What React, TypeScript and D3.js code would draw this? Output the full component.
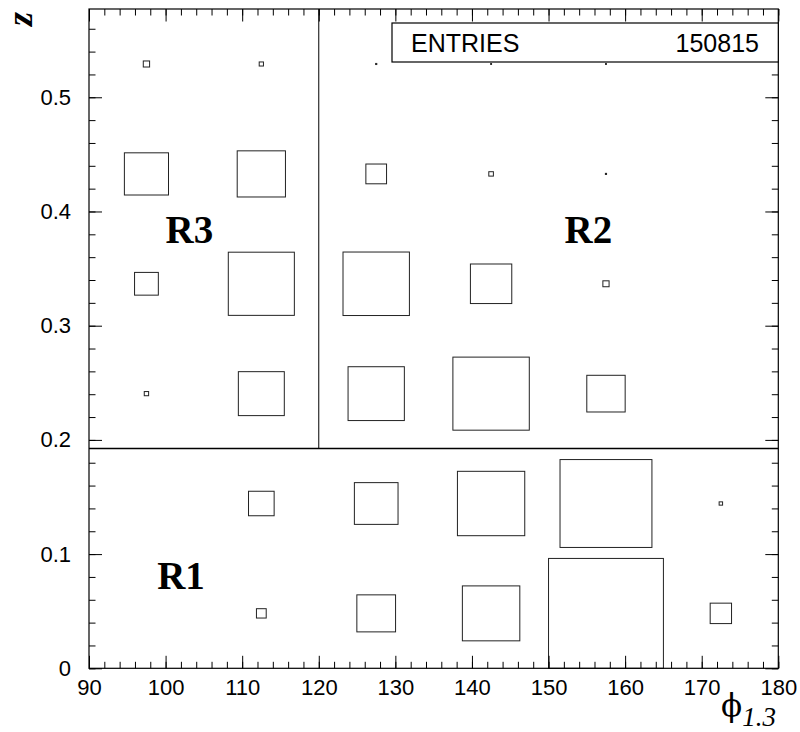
import { useEffect, useRef } from "react";
import * as d3 from "d3";

// bin edges of the 2D histogram
const phiEdges = [90, 105, 120, 135, 150, 165, 180];
const zEdges = [0, 0.0962, 0.1924, 0.2886, 0.3848, 0.481, 0.5773];

// relative cell contents (box side / bin width), rows = z bins from bottom
const cellContent = [
  [0, 0.085, 0.337, 0.5, 1.0, 0.186],
  [0, 0.223, 0.38, 0.586, 0.8, 0.03],
  [0.038, 0.4, 0.49, 0.665, 0.334, 0],
  [0.207, 0.575, 0.578, 0.36, 0.054, 0],
  [0.384, 0.42, 0.18, 0.04, 0.01, 0],
  [0.055, 0.037, 0.01, 0.008, 0.008, 0],
];

const xMajorTicks = [90, 100, 110, 120, 130, 140, 150, 160, 170, 180];
const yMajorTicks = [0, 0.1, 0.2, 0.3, 0.4, 0.5];

// region boundaries
const zCut = 0.1924;
const phiCut = 120;
const regionLabels = [
  { text: "R1", phi: 98.9, z: 0.069 },
  { text: "R2", phi: 152.1, z: 0.372 },
  { text: "R3", phi: 100.0, z: 0.372 },
];

const entries = "150815";

export default function App() {
  const svgRef = useRef<SVGSVGElement>(null);

  useEffect(() => {
    document.body.style.margin = "0";
    if (!svgRef.current) return;
    const width = 800;
    const height = 732;
    const left = 89;
    const right = 778.3;
    const top = 9;
    const bottom = 668.3;

    const svg = d3.select(svgRef.current);
    svg.selectAll("*").remove();
    svg.attr("width", width).attr("height", height);

    const x = d3.scaleLinear().domain([90, 180]).range([left, right]);
    const y = d3.scaleLinear().domain([0, zEdges[zEdges.length - 1]]).range([bottom, top]);

    const sans = "'Liberation Sans', Arial, Helvetica, sans-serif";
    const serif = "'Liberation Serif', 'Times New Roman', serif";

    // ── boxes ──────────────────────────────────────────────────────────────
    const cells: { x0: number; x1: number; y0: number; y1: number; f: number }[] = [];
    cellContent.forEach((row, j) =>
      row.forEach((f, i) => {
        if (f > 0) cells.push({ x0: phiEdges[i], x1: phiEdges[i + 1], y0: zEdges[j], y1: zEdges[j + 1], f });
      })
    );

    svg
      .append("g")
      .selectAll("rect")
      .data(cells)
      .enter()
      .append("rect")
      .attr("x", (d) => {
        const cx = (x(d.x0) + x(d.x1)) / 2;
        return cx - ((x(d.x1) - x(d.x0)) * d.f) / 2;
      })
      .attr("y", (d) => {
        const cy = (y(d.y0) + y(d.y1)) / 2;
        return cy - ((y(d.y0) - y(d.y1)) * d.f) / 2;
      })
      .attr("width", (d) => Math.max(0.8, (x(d.x1) - x(d.x0)) * d.f))
      .attr("height", (d) => Math.max(0.8, (y(d.y0) - y(d.y1)) * d.f))
      .attr("fill", "none")
      .attr("stroke", "#222")
      .attr("stroke-width", 1);

    // ── region lines ───────────────────────────────────────────────────────
    svg
      .append("line")
      .attr("x1", x(90))
      .attr("x2", x(180))
      .attr("y1", y(zCut))
      .attr("y2", y(zCut))
      .attr("stroke", "#000")
      .attr("stroke-width", 1.4);
    svg
      .append("line")
      .attr("x1", x(phiCut))
      .attr("x2", x(phiCut))
      .attr("y1", y(zCut))
      .attr("y2", top)
      .attr("stroke", "#000")
      .attr("stroke-width", 1);

    // ── axes (ROOT style, ticks inside, mirrored) ──────────────────────────
    const xMinor = d3.range(90, 181, 2);
    const yMinor = d3.range(0, 0.57, 0.02);

    const styleAxis = (sel: d3.Selection<SVGGElement, unknown, null, undefined>) => {
      sel.select(".domain").remove();
      sel.selectAll(".tick line").attr("stroke", "#000").attr("stroke-width", 1);
    };

    const bottomAxis = svg
      .append("g")
      .attr("transform", `translate(0,${bottom})`)
      .call(d3.axisBottom(x).tickValues(xMajorTicks).tickSize(-12.5).tickPadding(0).tickFormat(d3.format("d")));
    styleAxis(bottomAxis);
    bottomAxis
      .selectAll(".tick text")
      .attr("y", 26.5)
      .attr("dy", 0)
      .attr("font-family", sans)
      .attr("font-size", 22)
      .attr("fill", "#000");
    styleAxis(
      svg.append("g").attr("transform", `translate(0,${bottom})`).call(d3.axisBottom(x).tickValues(xMinor).tickSize(-6.5).tickFormat(() => ""))
    );
    styleAxis(
      svg.append("g").attr("transform", `translate(0,${top})`).call(d3.axisTop(x).tickValues(xMajorTicks).tickSize(-12.5).tickFormat(() => ""))
    );
    styleAxis(
      svg.append("g").attr("transform", `translate(0,${top})`).call(d3.axisTop(x).tickValues(xMinor).tickSize(-6.5).tickFormat(() => ""))
    );

    const leftAxis = svg
      .append("g")
      .attr("transform", `translate(${left},0)`)
      .call(d3.axisLeft(y).tickValues(yMajorTicks).tickSize(-13).tickPadding(18).tickFormat((d) => (d === 0 ? "0" : d3.format(".1f")(d as number))));
    styleAxis(leftAxis);
    leftAxis
      .selectAll(".tick text")
      .attr("x", -18)
      .attr("font-family", sans)
      .attr("font-size", 22)
      .attr("fill", "#000");
    styleAxis(
      svg.append("g").attr("transform", `translate(${left},0)`).call(d3.axisLeft(y).tickValues(yMinor).tickSize(-6.5).tickFormat(() => ""))
    );
    styleAxis(
      svg.append("g").attr("transform", `translate(${right},0)`).call(d3.axisRight(y).tickValues(yMajorTicks).tickSize(-13).tickFormat(() => ""))
    );
    styleAxis(
      svg.append("g").attr("transform", `translate(${right},0)`).call(d3.axisRight(y).tickValues(yMinor).tickSize(-6.5).tickFormat(() => ""))
    );

    // frame
    svg
      .append("rect")
      .attr("x", left)
      .attr("y", top)
      .attr("width", right - left)
      .attr("height", bottom - top)
      .attr("fill", "none")
      .attr("stroke", "#000")
      .attr("stroke-width", 1.2);

    // ── region labels ──────────────────────────────────────────────────────
    svg
      .append("g")
      .selectAll("text")
      .data(regionLabels)
      .enter()
      .append("text")
      .attr("x", (d) => x(d.phi))
      .attr("y", (d) => y(d.z))
      .attr("font-family", serif)
      .attr("font-weight", "bold")
      .attr("font-size", 39)
      .attr("fill", "#000")
      .text((d) => d.text);

    // ── stats box ──────────────────────────────────────────────────────────
    const stats = svg.append("g");
    stats
      .append("rect")
      .attr("x", 392)
      .attr("y", 23)
      .attr("width", right - 392)
      .attr("height", 39)
      .attr("fill", "#fff")
      .attr("stroke", "#000")
      .attr("stroke-width", 1.2);
    stats
      .append("text")
      .attr("x", 411)
      .attr("y", 52)
      .attr("font-family", sans)
      .attr("font-size", 25)
      .attr("fill", "#000")
      .text("ENTRIES");
    stats
      .append("text")
      .attr("x", 759)
      .attr("y", 52)
      .attr("text-anchor", "end")
      .attr("font-family", sans)
      .attr("font-size", 25)
      .attr("fill", "#000")
      .text(entries);

    // ── axis titles ────────────────────────────────────────────────────────
    svg
      .append("text")
      .attr("transform", `translate(32,12) rotate(-90)`)
      .attr("text-anchor", "end")
      .attr("font-family", serif)
      .attr("font-weight", "bold")
      .attr("font-style", "italic")
      .attr("font-size", 36)
      .attr("fill", "#000")
      .text("z");

    const xTitle = svg.append("text").attr("x", 721).attr("y", 716).attr("fill", "#000");
    xTitle.append("tspan").attr("font-family", "'DejaVu Serif', serif").attr("font-size", 31).text("ϕ");
    xTitle
      .append("tspan")
      .attr("font-family", serif)
      .attr("font-size", 27)
      .attr("font-style", "italic")
      .attr("dy", 10)
      .text("1.3");
  }, []);

  return <svg ref={svgRef} style={{ display: "block" }} />;
}
